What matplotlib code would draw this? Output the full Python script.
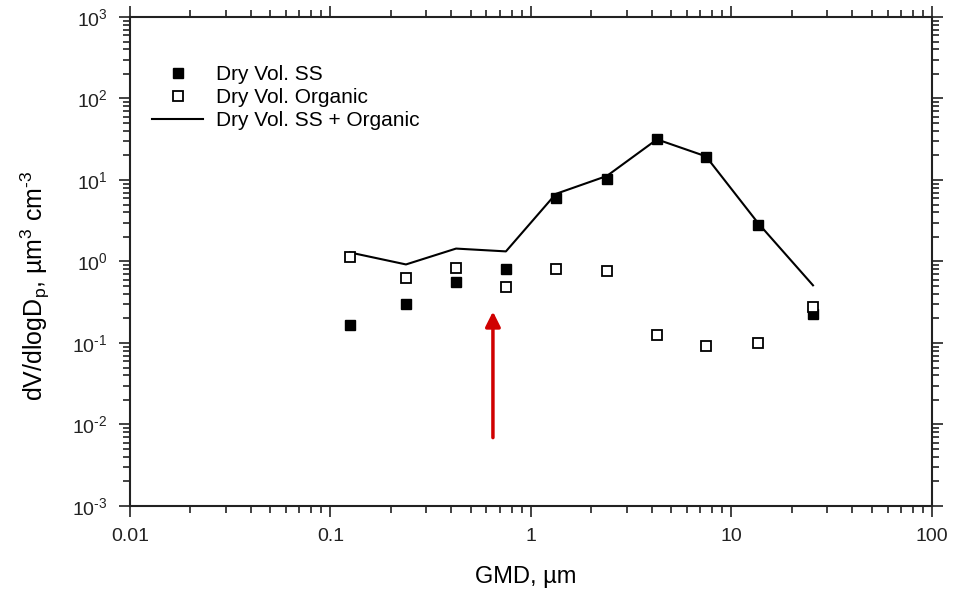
import numpy as np
import matplotlib
matplotlib.use('Agg')
import matplotlib.pyplot as plt
from matplotlib.ticker import LogLocator, FixedLocator, NullFormatter

plt.rcParams['font.family'] = ['Liberation Sans', 'DejaVu Sans']
plt.rcParams['mathtext.fontset'] = 'custom'
plt.rcParams['mathtext.rm'] = 'Liberation Sans'
plt.rcParams['mathtext.it'] = 'Liberation Sans:italic'
plt.rcParams['mathtext.default'] = 'regular'

# data
gmd = [0.125, 0.238, 0.423, 0.75, 1.33, 2.39, 4.25, 7.46, 13.6, 25.5]
vol_ss = [0.164, 0.305, 0.568, 0.82, 5.93, 10.4, 31.4, 19.4, 2.84, 0.23]
vol_org = [1.12, 0.62, 0.84, 0.49, 0.80, 0.775, 0.127, 0.091, 0.099, 0.28]
vol_sum = [1.29, 0.92, 1.44, 1.33, 6.75, 11.2, 31.5, 19.5, 2.94, 0.51]

xticks = [0.01, 0.1, 1, 10, 100]
xticklabels = ['0.01', '0.1', '1', '10', '100']
yticks = [1e-3, 1e-2, 1e-1, 1, 10, 100, 1000]
yexp = ['\u20103', '\u20102', '\u20101', '0', '1', '2', '3']

arrow_x = 0.646
arrow_y = [0.0069, 0.243]

fig = plt.figure(figsize=(9.55, 5.92), dpi=100)
ax = fig.add_axes([0.1361, 0.1453, 0.8398, 0.8260])

ax.plot(gmd, vol_sum, '-', color='black', lw=1.5, label='Dry Vol. SS + Organic')
ax.plot(gmd, vol_ss, 's', color='black', ms=6.8, ls='none', label='Dry Vol. SS')
ax.plot(gmd, vol_org, 's', mfc='white', mec='black', mew=1.3, ms=6.8, ls='none',
        label='Dry Vol. Organic')

ax.annotate('', xy=(arrow_x, arrow_y[1]), xytext=(arrow_x, arrow_y[0]),
            arrowprops=dict(arrowstyle='-|>,head_length=0.9,head_width=0.45',
                            color='#d00000', lw=2.5, shrinkA=0, shrinkB=0))

ax.set_xscale('log')
ax.set_yscale('log')
ax.set_xlim(0.01, 100)
ax.set_ylim(1e-3, 1e3)

ax.xaxis.set_major_locator(FixedLocator(xticks))
ax.set_xticklabels(xticklabels)
ax.xaxis.set_minor_locator(LogLocator(base=10, subs=np.arange(2, 10), numticks=20))
ax.xaxis.set_minor_formatter(NullFormatter())

ax.yaxis.set_major_locator(FixedLocator(yticks))
ax.set_yticklabels(['$10^{%s}$' % e for e in yexp])
ax.yaxis.set_minor_locator(LogLocator(base=10, subs=np.arange(2, 10), numticks=20))
ax.yaxis.set_minor_formatter(NullFormatter())

ax.tick_params(which='both', direction='out', top=True, right=True,
               labelsize=14, colors='#222222', width=1.2)
ax.tick_params(which='major', length=8, pad=8)
ax.tick_params(which='minor', length=5)
for s in ax.spines.values():
    s.set_linewidth(1.5)
    s.set_color('#222222')

ax.set_xlabel('GMD, µm', fontsize=17, va='center', ha='center')
ax.xaxis.set_label_coords(0.494, -0.145)
ax.set_ylabel('dV/dlogD$_p$, µm$^3$ cm$^{\u20103}$', fontsize=18, va='center', ha='center')
ax.yaxis.set_label_coords(-0.118, 0.45)

h, l = ax.get_legend_handles_labels()
order = [1, 2, 0]
ax.legend([h[i] for i in order], [l[i] for i in order], loc='upper left',
          bbox_to_anchor=(0.0045, 0.94), frameon=False, fontsize=15,
          handlelength=2.45, handletextpad=0.6, labelspacing=0.2)

plt.savefig('out.png', dpi=100)
plt.close()
